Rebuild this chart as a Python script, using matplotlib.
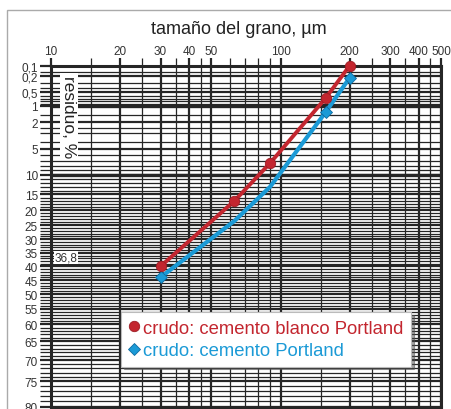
import numpy as np
import matplotlib.pyplot as plt
from matplotlib.lines import Line2D
from matplotlib.patches import Rectangle
from matplotlib.ticker import FixedLocator, NullFormatter, FixedFormatter

plt.rcParams['font.family'] = ['Liberation Sans', 'DejaVu Sans']

# data (grain size in um, residue in %)
size_white = [30, 63, 90, 157, 200]
res_white = [40, 17.0, 7.5, 0.69, 0.1]
size_portland = [30, 63, 90, 157, 200]
res_portland = [44, 23.5, 13.0, 1.33, 0.22]
portland_marked = [0, 3, 4]

label_white = 'crudo: cemento blanco Portland'
label_portland = 'crudo: cemento Portland'

x_major = [10, 20, 30, 40, 50, 100, 200, 300, 400, 500]
x_minor = [15, 25, 35, 45, 60, 70, 80, 90, 150, 250, 350, 450]
y_major = [0.1, 0.2, 0.5, 1, 2, 5, 10, 15, 20, 25, 30, 35, 40, 45, 50,
           55, 60, 65, 70, 75, 80]
y_major_labels = ['0,1', '0,2', '0,5', '1', '2', '5', '10', '15', '20', '25',
                  '30', '35', '40', '45', '50', '55', '60', '65', '70', '75', '80']
y_minor = [0.15, 0.3, 0.4, 0.6, 0.7, 0.8, 0.9, 1.5, 2.5, 3, 4, 6, 7, 8, 9] + \
    [v for v in range(11, 80) if v % 5 != 0]

red = '#c3262f'
blue = '#1b9ad6'
grid_c = '#262626'


# RRSB scale: ln(ln(100/R))
def fwd(r):
    r = np.clip(np.asarray(r, dtype=float), 1e-6, 99.99)
    return -np.log(np.log(100.0 / r))


def inv(v):
    v = np.asarray(v, dtype=float)
    return 100.0 / np.exp(np.exp(-v))


fig = plt.figure(figsize=(4.52, 4.10), dpi=100)
W, H = 452, 410
ax = fig.add_axes([51 / W, 2.3 / H, 390 / W, 341 / H])

ax.set_xscale('log')
ax.set_yscale('function', functions=(fwd, inv))
ax.set_xlim(10, 500)
ax.set_ylim(80, 0.1)

ax.xaxis.set_major_locator(FixedLocator(x_major))
ax.xaxis.set_major_formatter(FixedFormatter([str(v) for v in x_major]))
ax.xaxis.set_minor_locator(FixedLocator(x_minor))
ax.xaxis.set_minor_formatter(NullFormatter())
ax.yaxis.set_major_locator(FixedLocator(y_major))
ax.yaxis.set_major_formatter(FixedFormatter(y_major_labels))
ax.yaxis.set_minor_locator(FixedLocator(y_minor))
ax.yaxis.set_minor_formatter(NullFormatter())

ax.xaxis.tick_top()
ax.tick_params(axis='x', which='both', direction='out', length=5.5,
               colors=grid_c, labelcolor='#333333', labelsize=8.5, pad=1)
ax.tick_params(axis='x', which='major', width=1.6)
ax.tick_params(axis='x', which='minor', width=0.9)
ax.tick_params(axis='y', which='both', direction='out', length=8,
               colors=grid_c, labelcolor='#333333', labelsize=8.5, pad=1.5)
ax.tick_params(axis='y', which='major', width=1.6)
ax.tick_params(axis='y', which='minor', width=0.9)

ax.grid(which='major', color=grid_c, lw=1.6)
ax.grid(which='minor', color=grid_c, lw=0.9)
for v in [1, 10]:
    ax.axhline(v, color=grid_c, lw=2.4, zorder=1)
for s in ax.spines.values():
    s.set_color(grid_c)
    s.set_linewidth(2.2)

ax.plot(size_white, res_white, color=red, lw=2.8, marker='o', ms=7.5,
        mfc=red, mec='#9c1c24', mew=0.6, zorder=4, clip_on=False)
ax.plot(size_portland, res_portland, color=blue, lw=3.0, marker='D', ms=6,
        mfc=blue, mec='#0f6aa0', mew=0.6, zorder=3, clip_on=False,
        markevery=portland_marked)

ax.text(10.4, 36.8, '36,8', ha='left', va='center', fontsize=8.5,
        color='#333333', zorder=5,
        bbox=dict(facecolor='white', edgecolor='none', pad=0.5))

handles = [Line2D([], [], ls='none', marker='o', ms=7.5, mfc=red, mec='#9c1c24', mew=0.6),
           Line2D([], [], ls='none', marker='D', ms=6, mfc=blue, mec='#0f6aa0', mew=0.6)]
leg = ax.legend(handles, [label_white, label_portland], loc='upper left',
                bbox_to_anchor=(0.179, 0.277), fontsize=13.3, frameon=True,
                fancybox=False, shadow=True, handlelength=0.6,
                handletextpad=0.2, borderpad=0.4, labelspacing=0.3,
                borderaxespad=0)
leg.get_frame().set_edgecolor('#bbbbbb')
leg.get_frame().set_linewidth(0.8)
leg.texts[0].set_color(red)
leg.texts[1].set_color(blue)
leg.set_zorder(6)

fig.text(238.5 / W, 1 - 30 / H, 'tamaño del grano, µm', ha='center',
         va='center', fontsize=13, color='#222222')
fig.text(69 / W, 1 - 117 / H, 'residuo, %', ha='center', va='center',
         rotation=-90, fontsize=12.5, color='#222222', zorder=7,
         bbox=dict(facecolor='white', edgecolor='none', pad=1))

fig.patches.append(Rectangle((7 / W, -0.1), 1.2, 1.1 - 11 / H,
                             transform=fig.transFigure, fill=False,
                             edgecolor='#aaaaaa', lw=1))

fig.savefig('out.png', dpi=100)
